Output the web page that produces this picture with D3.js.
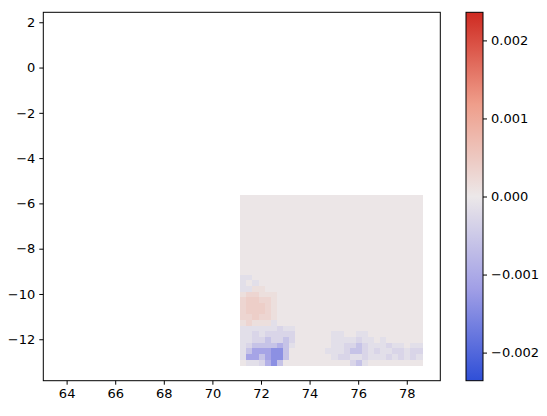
<!DOCTYPE html>
<html lang="en">
<head>
    <meta charset="UTF-8">
    <title>Field difference</title>
    <script src="https://d3js.org/d3.v7.min.js"></script>
    <style>
        body { margin: 0; background: #fff; }
        svg { display: block; }
        .tick text { font-size: 13px; fill: #000; font-family: "DejaVu Sans", sans-serif; }
        .cell { shape-rendering: crispEdges; }
    </style>
</head>
<body>
    <div id="chart"></div>

    <script>
        // tick labels
        const xTicks = [64, 66, 68, 70, 72, 74, 76, 78];
        const yTicks = [2, 0, -2, -4, -6, -8, -10, -12];
        const cbTicks = [0.002, 0.001, 0, -0.001, -0.002];

        // grid cell edges (data units)
        const colEdges = [71.15, 71.40, 71.65, 71.90, 72.15, 72.40, 72.65, 72.90, 73.15, 73.40,
            73.65, 73.90, 74.15, 74.40, 74.65, 74.90, 75.15, 75.40, 75.65, 75.90,
            76.15, 76.40, 76.65, 76.90, 77.15, 77.40, 77.65, 77.90, 78.15, 78.40, 78.65];
        const rowEdges = [-5.65, -5.90, -6.15, -6.40, -6.65, -6.90, -7.15, -7.40, -7.65, -7.90,
            -8.15, -8.40, -8.65, -8.90, -9.15, -9.40, -9.65, -9.90, -10.15, -10.40,
            -10.65, -10.90, -11.15, -11.40, -11.65, -11.90, -12.15, -12.40, -12.65, -12.90, -13.15];

        // value codes
        const levels = {
            '.': 0.00003, '+': 0.00015, 'r': 0.0003, 'R': 0.00042,
            '-': -0.00015, 'b': -0.0003, 'c': -0.0006, 'B': -0.0009, 'D': -0.0011, 'E': -0.0014
        };
        const rows = [
            '..............................',
            '..............................',
            '..............................',
            '..............................',
            '..............................',
            '..............................',
            '..............................',
            '..............................',
            '..............................',
            '..............................',
            '..............................',
            '..............................',
            '..............................',
            '..............................',
            '--............................',
            '-.-...........................',
            '--++..........................',
            '+rr+++........................',
            'rRRrr+........................',
            'rRRRr+........................',
            'rRRRr+........................',
            'rrRrr+........................',
            '+r+++-........................',
            '------b--.....................',
            '--b-bbbbb......--..--.........',
            '--bbcbbcb......----b--.-......',
            '-bccccBc-......--bbcb---b--.--',
            '-cDDDEEc......---bccb-b--bb-bb',
            '-DDcDEEc.......-bb--b---b-b-b-',
            '.--bBEc...........bc-.........'
        ];

        const vmin = -0.00236, vmax = 0.00236;

        const W = 547, H = 416;
        const ax = { left: 43.3, right: 440.3, top: 12.3, bottom: 380.7 };
        const cb = { left: 466, right: 483, top: 12.3, bottom: 380.7 };

        const svg = d3.select("#chart").append("svg")
            .attr("width", W).attr("height", H);

        const x = d3.scaleLinear().domain([63.04, 79.38]).range([ax.left, ax.right]);
        const y = d3.scaleLinear().domain([-13.83, 2.44]).range([ax.bottom, ax.top]);

        const color = d3.scaleLinear()
            .domain([vmin, vmin / 2, 0, vmax / 2, vmax])
            .range(["#2f4fd7", "#a19fe6", "#ece8e9", "#ef9e8b", "#cf2a21"])
            .interpolate(d3.interpolateRgb)
            .clamp(true);

        const cells = [];
        rows.forEach((row, i) => {
            row.split('').forEach((ch, j) => {
                if (levels[ch] === undefined) return;
                cells.push({ x0: colEdges[j], x1: colEdges[j + 1], y0: rowEdges[i], y1: rowEdges[i + 1], v: levels[ch] });
            });
        });

        const plot = svg.append("g");
        plot.selectAll("rect.cell")
            .data(cells)
            .enter().append("rect")
            .attr("class", "cell")
            .attr("x", d => x(d.x0))
            .attr("y", d => y(d.y0))
            .attr("width", d => x(d.x1) - x(d.x0) + 0.6)
            .attr("height", d => y(d.y1) - y(d.y0) + 0.6)
            .attr("fill", d => color(d.v));

        // axes frame
        svg.append("rect")
            .attr("x", ax.left).attr("y", ax.top)
            .attr("width", ax.right - ax.left).attr("height", ax.bottom - ax.top)
            .attr("fill", "none").attr("stroke", "#000").attr("stroke-width", 1);

        const minus = v => String(v).replace("-", "\u2212");

        const xAxis = svg.append("g")
            .attr("transform", `translate(0,${ax.bottom})`)
            .call(d3.axisBottom(x).tickValues(xTicks).tickSize(4).tickPadding(4).tickFormat(minus));
        const yAxis = svg.append("g")
            .attr("transform", `translate(${ax.left},0)`)
            .call(d3.axisLeft(y).tickValues(yTicks).tickSize(4).tickPadding(4).tickFormat(minus));
        [xAxis, yAxis].forEach(a => a.select(".domain").remove());

        // colorbar
        const cy = d3.scaleLinear().domain([vmin, vmax]).range([cb.bottom, cb.top]);
        const grad = svg.append("defs").append("linearGradient")
            .attr("id", "cbgrad").attr("x1", 0).attr("y1", 1).attr("x2", 0).attr("y2", 0);
        d3.range(0, 1.0001, 0.05).forEach(t => {
            grad.append("stop")
                .attr("offset", t)
                .attr("stop-color", color(vmin + t * (vmax - vmin)));
        });
        svg.append("rect")
            .attr("x", cb.left).attr("y", cb.top)
            .attr("width", cb.right - cb.left).attr("height", cb.bottom - cb.top)
            .attr("fill", "url(#cbgrad)")
            .attr("stroke", "#000").attr("stroke-width", 1);

        const cbAxis = svg.append("g")
            .attr("transform", `translate(${cb.right},0)`)
            .call(d3.axisRight(cy).tickValues(cbTicks).tickSize(4).tickPadding(4)
                .tickFormat(d => d3.format(".3f")(d).replace("-", "\u2212")));
        cbAxis.select(".domain").remove();
    </script>
</body>
</html>
